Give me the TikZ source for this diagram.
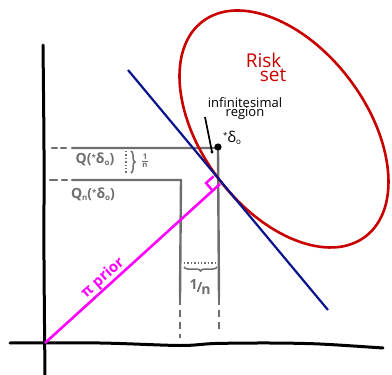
\documentclass[tikz,border=0pt]{standalone}
\usepackage{fontspec}
\setmainfont{Open Sans}
\usetikzlibrary{decorations.pathreplacing}
\definecolor{riskred}{RGB}{200,0,0}
\definecolor{blueline}{RGB}{10,20,140}
\definecolor{grayline}{RGB}{110,110,110}
\definecolor{magline}{RGB}{255,0,255}
\begin{document}
\begin{tikzpicture}[x=1pt,y=-1pt,
  axisline/.style={line width=3pt, black, line cap=round},
  gl/.style={line width=2.4pt, grayline, line cap=round},
  gldash/.style={line width=2.4pt, grayline, dash pattern=on 7pt off 5pt},
  lbl/.style={inner sep=0pt, font=\fontsize{14}{14}\selectfont\bfseries, text=grayline},
  brc/.style={decorate, decoration={brace, amplitude=4pt}, line width=1.5pt, grayline}]
\useasboundingbox (0,0) rectangle (392,375);
% axes
\draw[axisline] plot[smooth] coordinates {(43,45) (44,150) (44,260) (45,375)};
\draw[axisline] plot[smooth] coordinates {(10,343) (100,343) (180,345.5) (215,343.5) (270,343) (320,344) (383,348)};
% gray Q lines
\coordinate (qs) at (72,148);
\coordinate (qc) at (218,148);
\coordinate (qb) at (219,298);
\coordinate (qe) at (219,334);
\draw[gl] (52,148) -- (57,148) (61,148) -- (66,148);
\draw[gl] (qs) -- (qc) -- (qb);
\draw[gldash] (qb) -- (qe);
\coordinate (ns) at (72,180);
\coordinate (nc) at (181,180);
\coordinate (nb) at (180,298);
\coordinate (ne) at (180,338);
\draw[gl] (50,180) -- (57,180) (62,180) -- (67,180);
\draw[gl] (ns) -- (nc) -- (nb);
\draw[gldash] (nb) -- (ne);
% labels
\node[lbl] (qlab) at (95,159) {Q(\raisebox{3pt}{\footnotesize*}δ\raisebox{-2pt}{\footnotesize o})};
\node[lbl] (nlab) at (93,194) {Q\raisebox{-2pt}{\footnotesize n}(\raisebox{3pt}{\footnotesize*}δ\raisebox{-2pt}{\footnotesize o})};
% right brace
\coordinate (dt) at (126,151);
\coordinate (db) at (126,173);
\draw[grayline, line width=1.4pt, dotted] (dt) -- (db);
\coordinate (bt) at (131,151);
\coordinate (bb) at (131,173);
\draw[brc] (bt) -- (bb);
\node[lbl, font=\fontsize{11}{11}\selectfont\bfseries] (frac1) at (145,161) {$\mathbf{\frac{1}{n}}$};
% bottom brace
\coordinate (hl) at (184,263);
\coordinate (hr) at (217,263);
\draw[grayline, line width=1.4pt, dotted] (hl) -- (hr);
\coordinate (bl2) at (184,267);
\coordinate (br2) at (217,267);
\draw[brc] (br2) -- (bl2);
\node[lbl, font=\fontsize{14}{14}\selectfont\bfseries] (frac2) at (200,287) {\raisebox{3pt}{1}\kern-1pt/\kern-1pt\raisebox{-2pt}{n}};
% risk set
\coordinate (rc) at (284,129);
\draw[riskred, line width=2.6pt, rotate around={-52.9:(rc)}] (rc) ellipse [x radius=134.9pt, y radius=82.2pt];
\node[inner sep=0pt, text=riskred, font=\fontsize{19}{19}\selectfont, align=left] (risk) at (266,67) {Risk\\[-5pt]\hspace*{14pt}set};
% blue line
\coordinate (b1) at (128,70);
\coordinate (b2) at (328,310);
\draw[blueline, line width=2.2pt] (b1) -- (b2);
% magenta prior
\coordinate (o) at (45,343);
\coordinate (foot) at (220,184);
\draw[magline, line width=2.6pt] (o) -- (foot);
\draw[magline, line width=2.4pt] (213.6,176.3) -- (206,183) -- (212.5,190.6);
\node[inner sep=0pt, text=magline, font=\fontsize{15}{15}\selectfont\bfseries, rotate=41.4] (prior) at (103,278) {π prior};
% delta0 point
\fill (218,147) circle (3.6);
\node[inner sep=0pt, font=\fontsize{15}{15}\selectfont] (dlab) at (232,138) {\raisebox{4pt}{\footnotesize*}δ\raisebox{-2pt}{\footnotesize o}};
% infinitesimal region
\node[inner sep=0pt, font=\fontsize{13}{13}\selectfont, align=center] (inf) at (245,109) {infinitesimal\\[-4pt]region};
\coordinate (p1) at (205,117);
\coordinate (p2) at (212,152);
\draw[line width=1.7pt] (p1) -- (p2);
\fill (p2) circle (1.6);
\end{tikzpicture}
\end{document}
